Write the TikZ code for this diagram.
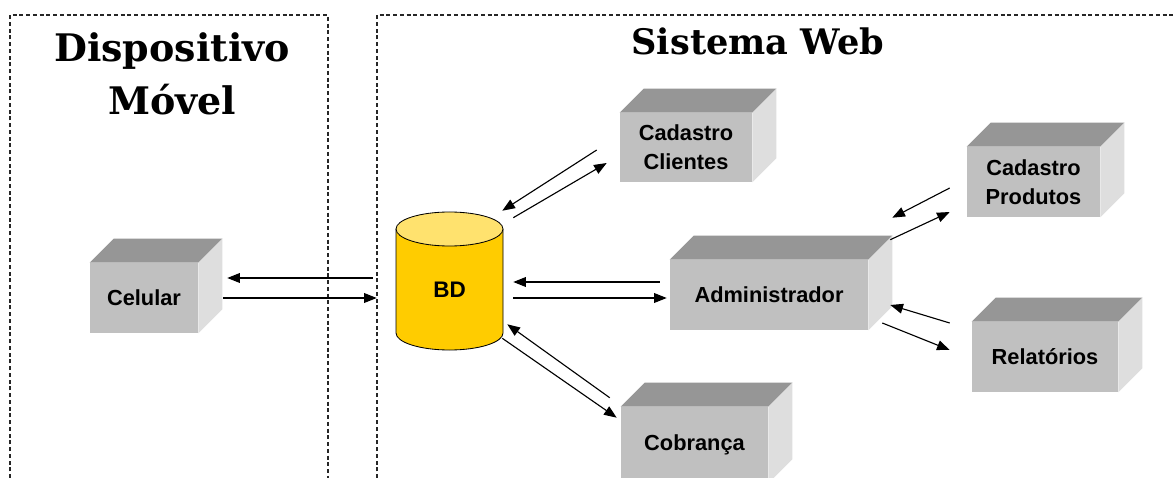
\documentclass[tikz,border=0pt]{standalone}
\usepackage{fontspec}
\setmainfont{Liberation Sans}
\newfontfamily\titlefont{DejaVu Serif}
\usepackage{tikz}
\usetikzlibrary{arrows.meta}
\usepackage{xcolor}
\definecolor{CinzaF}{RGB}{192,192,192}
\definecolor{CinzaT}{RGB}{150,150,150}
\definecolor{CinzaL}{RGB}{222,222,222}
\definecolor{Ouro}{RGB}{255,204,0}
\definecolor{OuroClaro}{RGB}{255,226,110}
\tikzstyle{Moldura}=[draw=black!85,line width=0.8pt,dash pattern=on 2.8pt off 2pt]
\tikzstyle{Titulo}=[font=\titlefont\bfseries\fontsize{25}{38}\selectfont,align=center,inner sep=0pt]
\tikzstyle{Caixa}=[fill=CinzaF,inner sep=0pt,align=center,
font=\bfseries\fontsize{15.5}{20.6}\selectfont]
\tikzstyle{Seta}=[-{Triangle[length=9pt,width=7pt]},line width=0.8pt]

\begin{document}
\begin{tikzpicture}[x=0.025cm,y=-0.025cm]
        \useasboundingbox(0,0)rectangle(1176,478);
        \fill[white](0,0)rectangle(1176,478);
        % molduras
        \draw[Moldura](10,478)--(10,15)--(328,15)--(328,478);
        \draw[Moldura](377,478)--(377,15)--(1176,15);
        \node[Titulo,font=\titlefont\bfseries\fontsize{27}{38}\selectfont](tdm)at(172,74){Dispositivo\\Móvel};
        \node[Titulo,anchor=base](tsw)at(758,55){Sistema Web};
        % caixas
        \node[Caixa,minimum width=2.7cm,minimum height=1.75cm](cel)at(144,298){Celular};
        \node[Caixa,minimum width=3.3cm,minimum height=1.725cm](cli)at(686,147.5){Cadastro\\Clientes};
        \node[Caixa,minimum width=4.95cm,minimum height=1.75cm](adm)at(769,295){Administrador};
        \node[Caixa,minimum width=3.675cm,minimum height=1.9cm](cob)at(694.5,445){Cobrança};
        \node[Caixa,minimum width=3.325cm,minimum height=1.75cm](pro)at(1033.5,182){Cadastro\\Produtos};
        \node[Caixa,minimum width=3.65cm,minimum height=1.75cm](rel)at(1045,357){Relatórios};
        \foreach \n in {cel,cli,adm,cob,pro,rel}{
          \fill[CinzaT](\n.north west)--++(24,-24)--([shift={(24,-24)}]\n.north east)--(\n.north east)--cycle;
          \fill[CinzaL](\n.north east)--++(24,-24)--([shift={(24,-24)}]\n.south east)--(\n.south east)--cycle;
        }
        % banco de dados
        \filldraw[fill=Ouro,line width=0.6pt](396,229)--(396,333)
          arc[start angle=180,end angle=360,x radius=1.3375cm,y radius=0.425cm]--(503,229);
        \filldraw[fill=OuroClaro,line width=0.6pt](449.5,229)ellipse[x radius=1.3375cm,y radius=0.425cm];
        \node[font=\bfseries\fontsize{16}{20.6}\selectfont,minimum width=2.675cm,minimum height=3cm,
          inner sep=0pt](bd)at(449.5,290){BD};
        % setas
        \draw[Seta]([shift={(-23,-12)}]bd.west)--([shift={(29,-20)}]cel.east);
        \draw[Seta]([shift={(25,0)}]cel.east)--([shift={(-19,8)}]bd.west);
        \draw[Seta]([shift={(-10,-13)}]adm.west)--([shift={(10,-8)}]bd.east);
        \draw[Seta]([shift={(10,8)}]bd.east)--([shift={(-3,3)}]adm.west);
        \draw[Seta]([shift={(-23,2.5)}]cli.west)--([shift={(-1,-19)}]bd.north east);
        \draw[Seta]([shift={(10,-12)}]bd.north east)--([shift={(-13,15.5)}]cli.west);
        \draw[Seta]([shift={(-11,-9)}]cob.north west)--([shift={(4,-26)}]bd.south east);
        \draw[Seta]([shift={(-1,-12)}]bd.south east)--([shift={(-4,11)}]cob.north west);
        \draw[Seta]([shift={(-17,6)}]pro.west)--([shift={(24,-42)}]adm.north east);
        \draw[Seta]([shift={(22,-20)}]adm.north east)--([shift={(-17,30)}]pro.west);
        \draw[Seta]([shift={(-22,-34)}]rel.west)--([shift={(22,10)}]adm.east);
        \draw[Seta]([shift={(14,28)}]adm.east)--([shift={(-22,-7)}]rel.west);
    \end{tikzpicture}
\end{document}
